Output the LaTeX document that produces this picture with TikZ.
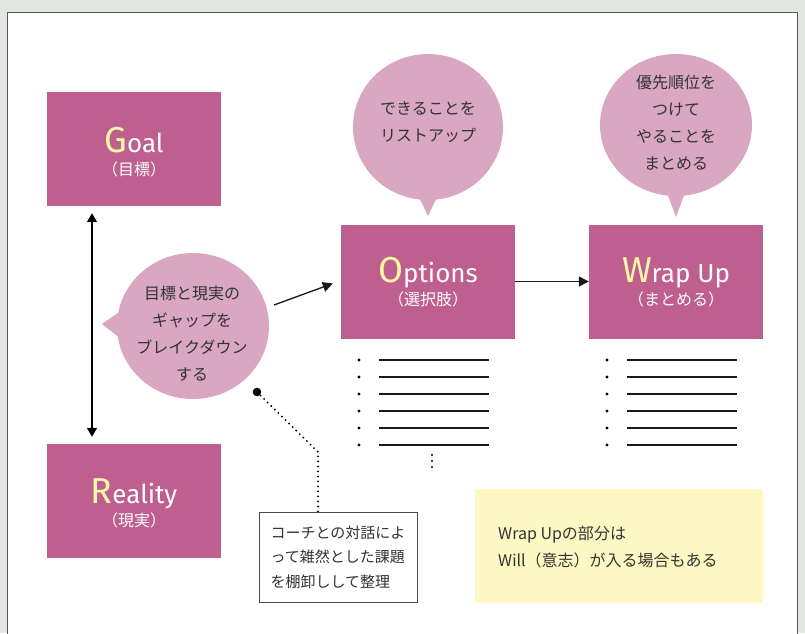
\documentclass[tikz,border=0pt]{standalone}
\usepackage{fontspec}
\setmainfont{Noto Sans CJK JP}
\newfontfamily\titlefont{Fira Sans}
\usetikzlibrary{shapes.geometric,arrows.meta}
\definecolor{boxmag}{HTML}{BE5F8F}
\definecolor{bubpink}{HTML}{D9A7C1}
\definecolor{inityel}{HTML}{FFF6A6}
\definecolor{notey}{HTML}{FEF8C4}
\definecolor{bggrey}{HTML}{E4E6E4}
\definecolor{txt}{HTML}{333333}
\tikzset{
  stagebox/.style={fill=boxmag, minimum width=174pt, minimum height=114pt, inner sep=0pt},
  stagetitle/.style={anchor=base, text=white, font=\titlefont\fontsize{26}{30}\selectfont, inner sep=0pt},
  stagesub/.style={anchor=base, text=white, font=\fontsize{16}{18}\selectfont, inner sep=0pt},
  bubble/.style={ellipse, fill=bubpink, inner sep=0pt},
  bubtext/.style={align=center, text=txt, font=\fontsize{16}{27}\selectfont, inner sep=0pt},
  flow/.style={line width=1.3pt, draw=black!90, -{Triangle[length=10pt,width=10pt]}},
  listline/.style={line width=1.6pt, black!90},
}
\newcommand{\initial}[1]{{\color{inityel}\fontsize{36}{36}\selectfont #1}}
\begin{document}
\begin{tikzpicture}[x=1pt,y=-1pt]
\useasboundingbox (0,0) rectangle (805,633);
\fill[bggrey] (0,0) rectangle (805,633);
\filldraw[fill=white, draw=black!65, line width=0.8pt] (7,12) -- (797,12) -- (797,640) -- (7,640) -- cycle;

% stage boxes
\node[stagebox] (goal) at (134,149) {};
\node[stagebox] (reality) at (134,501) {};
\node[stagebox] (options) at (428,281.5) {};
\node[stagebox] (wrap) at (676,281.5) {};

\node[stagetitle] (goalt) at ([yshift=-3pt]goal.center) {\initial{G}oal};
\node[stagesub] (goals) at ([yshift=-26pt]goal.center) {（目標）};
\node[stagetitle] (realityt) at ([yshift=-2pt]reality.center) {\initial{R}eality};
\node[stagesub] (realitys) at ([yshift=-25pt]reality.center) {（現実）};
\node[stagetitle] (optionst) at ([yshift=-1pt]options.center) {\initial{O}ptions};
\node[stagesub] (optionss) at ([yshift=-24pt]options.center) {（選択肢）};
\node[stagetitle] (wrapt) at ([yshift=-1pt]wrap.center) {\initial{W}rap Up};
\node[stagesub] (wraps) at ([yshift=-24pt]wrap.center) {（まとめる）};

% bubbles
\node[bubble, minimum width=150pt, minimum height=146pt] (optb) at (428,127) {};
\fill[bubpink] (418,195) -- (428,216) -- (438,195) -- cycle;
\node[bubtext] (optbt) at (428,122) {できることを\\リストアップ};

\node[bubble, minimum width=152pt, minimum height=142pt] (wrapb) at (676,125) {};
\fill[bubpink] (666,190) -- (676,217) -- (686,190) -- cycle;
\node[bubtext] (wrapbt) at (676,123) {優先順位を\\つけて\\やることを\\まとめる};

\node[bubble, minimum width=152pt, minimum height=146pt] (gapb) at (193,326) {};
\fill[bubpink] (125,308) -- (102,324) -- (125,342) -- cycle;
\node[bubtext] (gapbt) at (192,334) {目標と現実の\\ギャップを\\ブレイクダウン\\する};

% connectors
\draw[line width=1.3pt, {Triangle[length=9pt,width=10pt]}-{Triangle[length=9pt,width=10pt]}]
  ([xshift=-42pt,yshift=-7pt]goal.south) -- ([xshift=-42pt,yshift=7pt]reality.north);
\coordinate (gapout) at (274,305);
\draw[flow] (gapout) -- ([xshift=-8pt,yshift=-2pt]options.west);
\draw[flow] (options.east) -- (wrap.west);

% bullet lists
\foreach \i in {0,...,5} {
  \fill (359,{360+17*\i}) circle (1.7pt);
  \draw[listline] (379,{360+17*\i}) -- (489,{360+17*\i});
  \fill (607,{360+17*\i}) circle (1.7pt);
  \draw[listline] (627,{360+17*\i}) -- (737,{360+17*\i});
}
\foreach \j in {0,1,2} \fill (432,{455+6*\j}) circle (1.2pt);

% note box and dotted leader
\node[draw=black!70, line width=0.8pt, fill=white, minimum width=158pt, minimum height=90pt,
      align=left, text=txt, font=\fontsize{15}{24.5}\selectfont, inner sep=0pt] (note) at (338,557)
  {コーチとの対話によ\\って雑然とした課題\\を棚卸しして整理};
\coordinate (dot) at (257,392);
\coordinate (bend) at (318,452);
\fill (dot) circle (4.3pt);
\draw[line width=2.1pt, dash pattern=on 0pt off 5pt, line cap=round] (dot) -- (bend) -- (note.north -| bend);

% yellow note
\node[fill=notey, minimum width=288pt, minimum height=114pt, inner sep=0pt] (willbox) at (619,546) {};
\node[anchor=west, align=left, text=txt, font=\fontsize{16}{27}\selectfont, inner sep=0pt] (willt) at (498,547)
  {Wrap Upの部分は\\Will（意志）が入る場合もある};
\end{tikzpicture}
\end{document}
